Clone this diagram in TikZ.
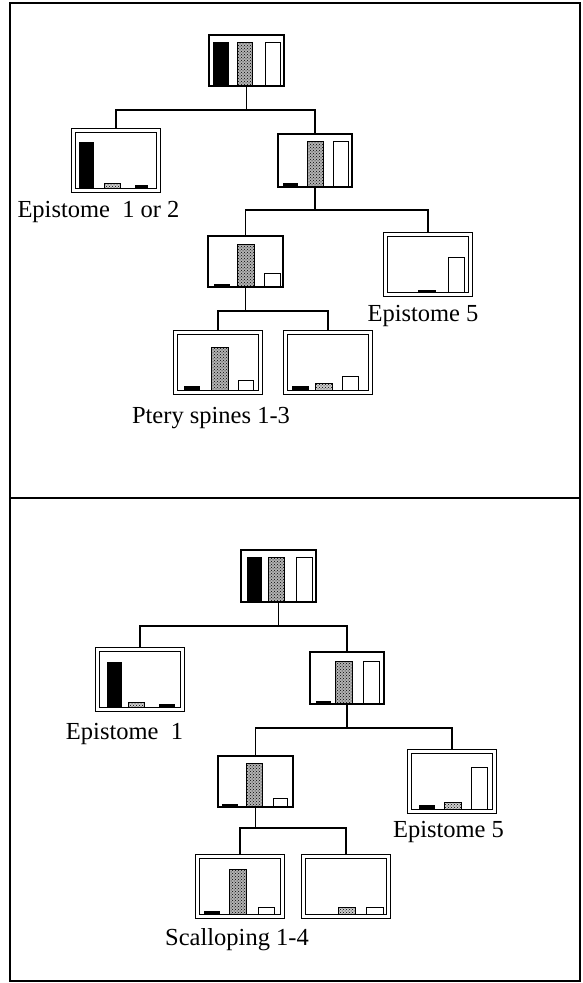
\documentclass[tikz,border=0pt]{standalone}
\usepackage{fontspec}
\setmainfont{Liberation Serif}
\usepackage{tikz}
\usetikzlibrary{patterns}
\usetikzlibrary{positioning}
\usetikzlibrary{calc}

% bars standing on the floor of a box: dx/width/height/kind
\newcommand{\colbars}[3]{%
  \foreach \dx/\w/\h/\k in {#3}
    \draw[\k] ($(#1.south west)+(\dx,#2)$) rectangle ++(\w,\h);
}

\tikzset{
  box/.style={draw, line width=1.5pt, inner sep=0pt, outer sep=0pt, anchor=north west,
    minimum width=75pt, minimum height=51pt},
  dbox/.style={draw, double, line width=1.3pt, double distance=2.4pt, inner sep=0pt,
    outer sep=2.5pt, anchor=north west, minimum width=85pt, minimum height=60pt},
  link/.style={line width=1.4pt},
  lbl/.style={inner sep=0pt, outer sep=0pt, font=\fontsize{24.5}{28}\selectfont},
  solid bar/.style={draw, line width=1pt, fill=black},
  dot bar/.style={draw, line width=1pt, preaction={fill=black!30}, pattern=crosshatch dots},
  open bar/.style={draw, line width=1pt, fill=white},
  low bar/.style={draw, line width=1pt, preaction={fill=black!20}, pattern=crosshatch dots}
}

\begin{document}
\begin{tikzpicture}[x=1pt,y=1pt]
\useasboundingbox (0,0) rectangle (582,-983);

%Frame
\draw[line width=1.6pt] (10,-3) rectangle (580,-981);
\draw[line width=1.6pt] (10,-498) -- (580,-498);

%%% upper tree
\node[box] (rootA) at (209,-35) {};
\colbars{rootA}{0.75}{4/15/43/solid bar, 28/15/43/dot bar, 56/15/43/open bar}
\node[dbox] (A1) at (71,-128) {};
\colbars{A1}{5}{8/14/46/solid bar, 33/16/5/low bar, 64/12/3/solid bar}
\node[box, minimum width=74pt, minimum height=53pt] (A2) at (278,-134) {};
\colbars{A2}{0.75}{5/14/3/solid bar, 29/16/45/dot bar, 55/15/45/open bar}
\node[box] (A3) at (208,-236) {};
\colbars{A3}{0.75}{6/15/2/solid bar, 29/17/42/dot bar, 56/16/13/open bar}
\node[dbox] (A4) at (383,-232) {};
\colbars{A4}{5}{35/17/1.5/solid bar, 65/16/35/open bar}
\node[dbox] (A5) at (173,-330) {};
\colbars{A5}{5}{11/15/4/solid bar, 38/17/43/dot bar, 65/15/10/open bar}
\node[dbox] (A6) at (283,-330) {};
\colbars{A6}{5}{9/16/4/solid bar, 32/17/7/low bar, 59/16/14/open bar}

%Straight Lines
\coordinate (jA1) at ($(rootA.south)+(0,-24)$);
\coordinate (jA2) at ($(A2.south)+(0,-23)$);
\coordinate (jA3) at ($(A3.south)+(0,-24)$);
\draw[link] (rootA.south) -- (jA1);
\draw[link] (A1.north) |- (jA1) -| (A2.north);
\draw[link] (A2.south) -- (jA2);
\draw[link] (A3.north) |- (jA2) -| (A4.north);
\draw[link] (A3.south) -- (jA3);
\draw[link] (A5.north) |- (jA3) -| (A6.north);

% Text Node
\node[lbl, below=8.5pt of A1, xshift=-17.5pt] (labA1) {Epistome\ \ 1 or 2};
% Text Node
\node[lbl, below=8pt of A4, xshift=-5pt] (labA4) {Epistome 5};
% Text Node
\node[lbl, below=12pt of A5, xshift=-7pt] (labA5) {Ptery spines 1-3};

%%% lower tree
\node[box, minimum height=52pt] (rootB) at (241,-550) {};
\colbars{rootB}{0.75}{6/14/44/solid bar, 27/16/44/dot bar, 55/16/44/open bar}
\node[dbox] (B1) at (95,-647) {};
\colbars{B1}{5}{12/14/45/solid bar, 33/16/5/low bar, 64/15/3/solid bar}
\node[box, minimum width=74pt, minimum height=52pt] (B2) at (310,-652) {};
\colbars{B2}{0.75}{6/14/2/solid bar, 25/17/42/dot bar, 53/16/42/open bar}
\node[box] (B3) at (218,-756) {};
\colbars{B3}{0.75}{4/15/2/solid bar, 28/16/43/dot bar, 55/14/8/open bar}
\node[dbox] (B4) at (407,-749) {};
\colbars{B4}{5}{12/15/4/solid bar, 37/17/7/low bar, 64/16/42/open bar}
\node[dbox] (B5) at (195,-854) {};
\colbars{B5}{5}{9/15/3/solid bar, 34/17/45/dot bar, 63/16/7/open bar}
\node[dbox] (B6) at (301,-854) {};
\colbars{B6}{5}{37/17/7/low bar, 65/17/7/open bar}

%Straight Lines
\coordinate (jB1) at ($(rootB.south)+(0,-24)$);
\coordinate (jB2) at ($(B2.south)+(0,-24)$);
\coordinate (jB3) at ($(B3.south)+(0,-21)$);
\draw[link] (rootB.south) -- (jB1);
\draw[link] (B1.north) |- (jB1) -| (B2.north);
\draw[link] (B2.south) -- (jB2);
\draw[link] (B3.north) |- (jB2) -| (B4.north);
\draw[link] (B3.south) -- (jB3);
\draw[link] (B5.north) |- (jB3) -| (B6.north);

% Text Node
\node[lbl, below=11.5pt of B1, xshift=-15.5pt] (labB1) {Epistome\ \ 1};
% Text Node
\node[lbl, below=7pt of B4, xshift=-3.5pt] (labB4) {Epistome 5};
% Text Node
\node[lbl, below=9pt of B5, xshift=-3pt] (labB5) {Scalloping 1-4};

\end{tikzpicture}
\end{document}
